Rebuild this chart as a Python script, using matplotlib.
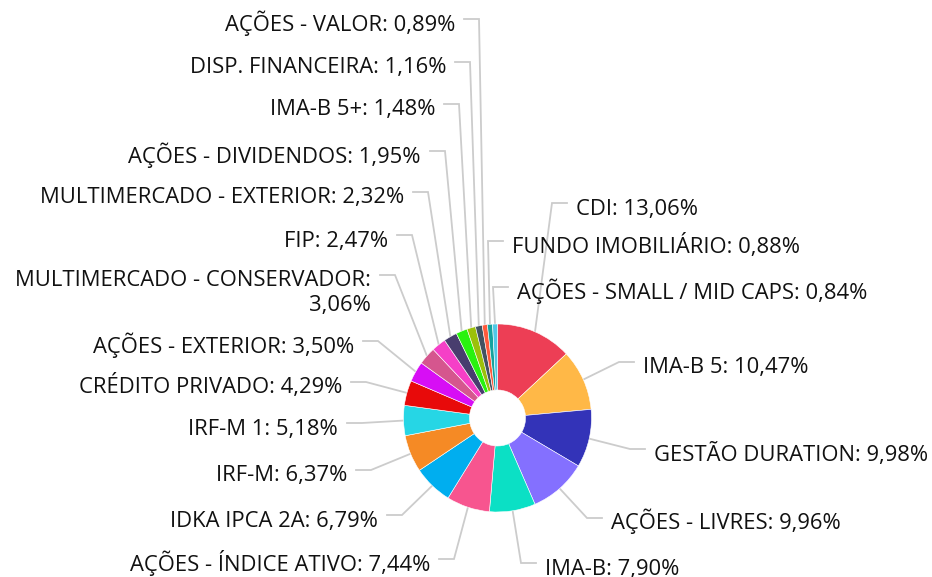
import numpy as np
import matplotlib
matplotlib.use("Agg")
import matplotlib.pyplot as plt

# carteira - distribuicao por segmento
names = ["CDI", "IMA-B 5", "GESTÃO DURATION", "AÇÕES - LIVRES", "IMA-B",
         "AÇÕES - ÍNDICE ATIVO", "IDKA IPCA 2A", "IRF-M", "IRF-M 1",
         "CRÉDITO PRIVADO", "AÇÕES - EXTERIOR", "MULTIMERCADO - CONSERVADOR",
         "FIP", "MULTIMERCADO - EXTERIOR", "AÇÕES - DIVIDENDOS", "IMA-B 5+",
         "DISP. FINANCEIRA", "AÇÕES - VALOR", "FUNDO IMOBILIÁRIO",
         "AÇÕES - SMALL / MID CAPS"]
values = [13.06, 10.47, 9.98, 9.96, 7.90, 7.44, 6.79, 6.37, 5.18, 4.29,
          3.50, 3.06, 2.47, 2.32, 1.95, 1.48, 1.16, 0.89, 0.88, 0.84]
colors = ["#ED3E55", "#FFB847", "#3333B8", "#8470FF", "#0BE0C5",
          "#F7558F", "#00AEEF", "#F58A25", "#26D6E5", "#E80A0A",
          "#D70EF5", "#D5568E", "#F53FC7", "#483D6E", "#29F20F",
          "#9CC00A", "#425261", "#FF5A3C", "#15A39E", "#50C8E6"]

# label layout (pixel coords, y from top): side, text x, connector y
sides = ["r", "r", "r", "r", "r", "l", "l", "l", "l", "l",
         "l", "l", "l", "l", "l", "l", "l", "l", "r", "r"]
lab_x = [576, 643, 654, 611, 545, 430, 378, 347, 338, 342,
         354, 371, 388, 404, 421, 435, 446, 455, 512, 517]
lab_y = [203, 362, 449, 518, 563, 559, 515, 470, 423, 382,
         341, 275, 235, 192, 151, 104, 62, 19, 241, 287]

W, H = 932, 577
cx, cy, R, r_in = 497.5, 418, 94, 28

plt.rcParams['font.family'] = ['Open Sans', 'DejaVu Sans']
fig = plt.figure(figsize=(W / 100, H / 100), dpi=100)
ax = fig.add_axes([0, 0, 1, 1])

wedges, _ = ax.pie(values, colors=colors, startangle=90, counterclock=False,
                   center=(cx, H - cy), radius=R,
                   wedgeprops=dict(width=R - r_in, edgecolor="white", linewidth=0.4))

for i, w in enumerate(wedges):
    mid = np.deg2rad((w.theta1 + w.theta2) / 2)
    ex = cx + R * np.cos(mid)
    ey = (H - cy) + R * np.sin(mid)
    sgn = 1 if sides[i] == "r" else -1
    end_x = lab_x[i] - sgn * 9
    elb_x = end_x - sgn * 15
    ly = H - lab_y[i]
    ax.plot([ex, elb_x, end_x], [ey, ly, ly], color="#CCCCCC", lw=1.3,
            solid_joinstyle="miter", zorder=0)
    pct = ("%.2f" % values[i]).replace(".", ",") + "%"
    if names[i] == "MULTIMERCADO - CONSERVADOR":
        parts = [names[i] + ":", pct]
    else:
        parts = [names[i] + ": " + pct]
    for k, p in enumerate(parts):
        ax.text(lab_x[i], ly - 11.5 - k * 24, p, fontsize=15.8, color="#111111",
                ha="left" if sides[i] == "r" else "right", va="baseline")

ax.set_xlim(0, W)
ax.set_ylim(0, H)
ax.set_aspect("equal")
ax.axis("off")
fig.savefig("out.png", dpi=100)
